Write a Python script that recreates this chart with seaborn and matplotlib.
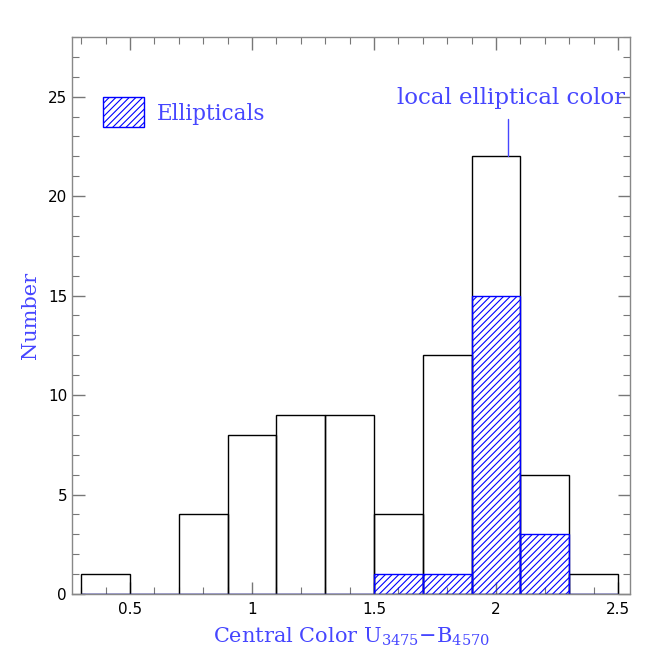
import numpy as np
import pandas as pd
import seaborn as sns
import matplotlib
matplotlib.use("Agg")
import matplotlib.pyplot as plt
from matplotlib.ticker import MultipleLocator, FormatStrFormatter
from matplotlib.patches import Rectangle

# ---- data ----
bin_edges = [0.3, 0.5, 0.7, 0.9, 1.1, 1.3, 1.5, 1.7, 1.9, 2.1, 2.3, 2.5]
all_counts = [1, 0, 4, 8, 9, 9, 4, 12, 22, 6, 1]
elliptical_counts = [0, 0, 0, 0, 0, 0, 1, 1, 15, 3, 0]
local_elliptical_color = 2.05
x_ticks = [0.5, 1, 1.5, 2, 2.5]
y_ticks = [0, 5, 10, 15, 20, 25]

centers = [(a + b) / 2 for a, b in zip(bin_edges[:-1], bin_edges[1:])]
df = pd.DataFrame({"color": centers, "all": all_counts, "ell": elliptical_counts})

sns.set_style("ticks")
plt.rcParams["hatch.color"] = "#0000ff"
plt.rcParams["hatch.linewidth"] = 0.8
plt.rcParams["mathtext.fontset"] = "custom"
plt.rcParams["mathtext.rm"] = "DejaVu Serif"
plt.rcParams["mathtext.it"] = "DejaVu Serif"

BLUE = "#0000ff"
LBLUE = "#4646ff"
serif = ["DejaVu Serif"]

fig = plt.figure(figsize=(6.64, 6.64), dpi=100)
ax = fig.add_axes([0.1084, 0.1054, 0.8408, 0.8389])

sns.histplot(data=df, x="color", weights="all", bins=bin_edges, element="bars",
             fill=False, color="black", linewidth=1.0, ax=ax)
sns.histplot(data=df, x="color", weights="ell", bins=bin_edges, element="bars",
             fill=True, color=BLUE, linewidth=1.0, ax=ax, alpha=1)
for p in ax.patches[len(all_counts):]:
    p.set_facecolor("none")
    p.set_edgecolor(BLUE)
    p.set_hatch("/////")

ax.set_xlim(0.262, 2.55)
ax.set_ylim(0, 28)
ax.set_xticks(x_ticks)
ax.set_yticks(y_ticks)
ax.xaxis.set_major_formatter(FormatStrFormatter("%g"))
ax.yaxis.set_major_formatter(FormatStrFormatter("%g"))
ax.xaxis.set_minor_locator(MultipleLocator(0.1))
ax.yaxis.set_minor_locator(MultipleLocator(1))
ax.tick_params(which="both", direction="in", top=True, right=True, color="#777777",
               labelsize=11, labelcolor="black")
ax.tick_params(which="major", length=9, width=1)
ax.tick_params(which="minor", length=5, width=0.8)
ax.tick_params(axis="x", pad=6)
for s in ax.spines.values():
    s.set_color("#888888")
    s.set_linewidth(1.0)
    s.set_visible(True)

ax.set_xlabel("Central Color U$_{3475}$$-$B$_{4570}$", color=LBLUE, fontsize=15,
              family=serif, labelpad=6)
ax.set_ylabel("Number", color=LBLUE, fontsize=15, family=serif, labelpad=6)

# legend
ax.add_patch(Rectangle((0.389, 23.47), 0.168, 1.5, facecolor="none", edgecolor=BLUE,
                       hatch="/////", linewidth=1.0))
ax.text(0.61, 24.15, "Ellipticals", color=LBLUE, fontsize=15.5, family=serif,
        va="center", ha="left")

# local elliptical color marker
ax.text(2.53, 24.95, "local elliptical color", color=LBLUE, fontsize=16.5, family=serif,
        va="center", ha="right")
ax.plot([local_elliptical_color, local_elliptical_color], [22, 23.9], color=LBLUE, lw=1)

fig.savefig("out.png", dpi=100)
